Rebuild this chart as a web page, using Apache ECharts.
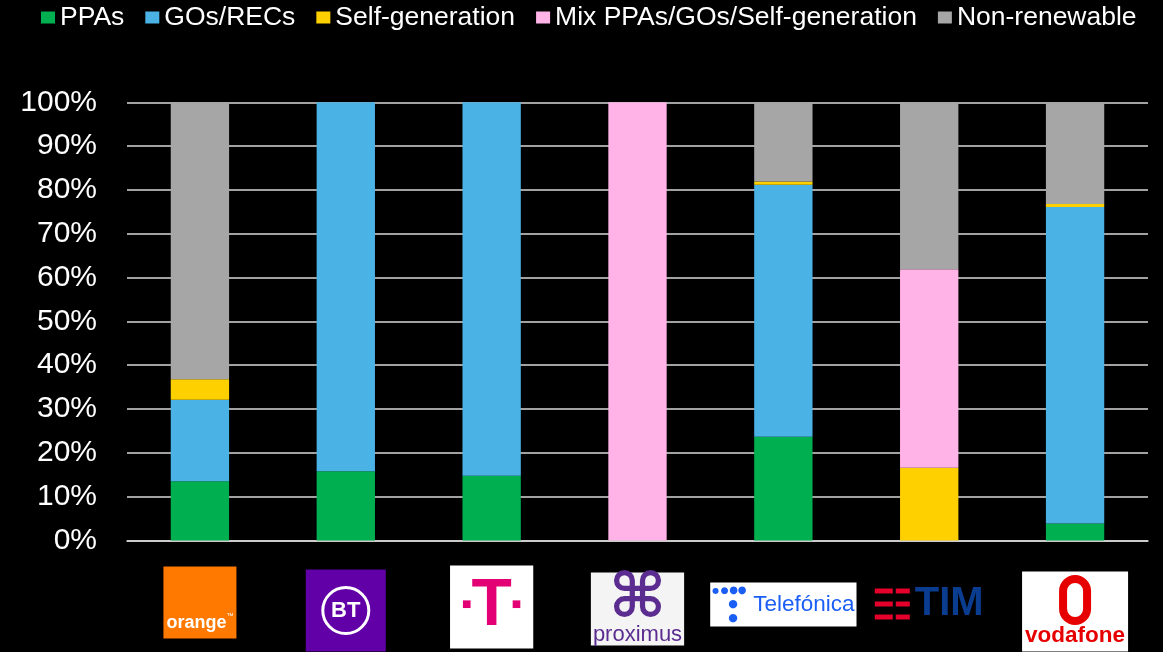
<!DOCTYPE html>
<html><head><meta charset="utf-8">
<script src="https://cdn.jsdelivr.net/npm/echarts@6/dist/echarts.min.js"></script>
<style>html,body{margin:0;padding:0;background:#000;}#c{width:1163px;height:652px;}</style>
</head><body><div id="c"></div>
<script>
// ---- data ----
const categories = ['Orange', 'BT', 'Deutsche Telekom', 'Proximus', 'Telefónica', 'TIM', 'Vodafone'];
const seriesNames = ['PPAs', 'GOs/RECs', 'Self-generation', 'Mix PPAs/GOs/Self-generation', 'Non-renewable'];
const ppas         = [13.5, 15.8, 14.8, 0,   23.7, 0,    3.9];
const gosRecs      = [18.6, 84.2, 85.2, 0,   57.5, 0,    72.2];
const selfGen      = [4.7,  0,    0,    0,   0.7,  16.6, 0.7];
const mixed        = [0,    0,    0,    100, 0,    45.3, 0];
const nonRenewable = [63.2, 0,    0,    0,   18.1, 38.1, 23.2];
const yTickLabels  = ['0%','10%','20%','30%','40%','50%','60%','70%','80%','90%','100%'];
const seriesValues = [ppas, gosRecs, selfGen, mixed, nonRenewable];
const colors = ['#00B050', '#4BB2E5', '#FFD000', '#FFB3E6', '#A6A6A6'];

// ---- logo labels (as rich text) ----
const logoText = {
  'Orange': '{o|orange}{otm|™}',
  'BT': '{bt|BT}',
  'Deutsche Telekom': '{dsq|■}{dt|T}{dsq|■}',
  'Proximus': '{px|⌘}\n{pxt|proximus}',
  'Telefónica': '{tfa|●}{tfb|●}{tfc|●}{tfd|●}\n{tfe|●}{tft|Telefónica}\n{tfe|●}',
  'TIM': '{tr1| }{tg| }{tr2| }\n{tr1| }{tg| }{tr2| }{tim|TIM}\n{tr1| }{tg| }{tr2| }',
  'Vodafone': '{vr| }\n{vt|vodafone}'
};
const logoBox = {
  'Orange': {backgroundColor: '#FF7900', padding: [46, 3, 4, 3]},
  'BT': {backgroundColor: '#6000A6', padding: [18, 17, 18, 17]},
  'Deutsche Telekom': {backgroundColor: '#FFFFFF', padding: [8, 12, 8, 12]},
  'Proximus': {backgroundColor: '#F4F4F4', padding: [3, 2, 2, 2]},
  'Telefónica': {backgroundColor: '#FFFFFF', padding: [1, 2, 1, 2]},
  'TIM': {},
  'Vodafone': {backgroundColor: '#FFFFFF', padding: [3, 3, 6, 3]}
};
const logoMargin = {
  'Orange': 26, 'BT': 29, 'Deutsche Telekom': 25, 'Proximus': 32,
  'Telefónica': 42, 'TIM': 44, 'Vodafone': 31
};
const tfBlue = '#1A5EF5';
const timRed = '#E4002B';
const rich = {
  o: {color: '#fff', fontSize: 18, fontWeight: 'bold', lineHeight: 22, fontFamily: 'Liberation Sans'},
  otm: {color: '#fff', fontSize: 7, lineHeight: 22, verticalAlign: 'top', fontFamily: 'Liberation Sans'},
  bt: {width: 46, height: 46, lineHeight: 46, align: 'center', borderColor: '#fff', borderWidth: 3,
       borderRadius: 24, color: '#fff', fontSize: 22, fontWeight: 'bold', fontFamily: 'Liberation Sans'},
  dt: {color: '#E20074', fontSize: 66, fontWeight: 'bold', lineHeight: 67, fontFamily: 'Liberation Sans'},
  dsq: {color: '#E20074', fontSize: 10, lineHeight: 67, fontFamily: 'DejaVu Sans', padding: [0, 0, 6, 0]},
  px: {color: '#5C2D91', fontSize: 62, fontWeight: 'bold', lineHeight: 50, fontFamily: 'DejaVu Sans'},
  pxt: {color: '#5C2D91', fontSize: 22, lineHeight: 18, fontFamily: 'Liberation Sans'},
  tfa: {color: tfBlue, fontSize: 8, width: 8.5, align: 'left', lineHeight: 14, fontFamily: 'DejaVu Sans'},
  tfb: {color: tfBlue, fontSize: 9, width: 8.5, align: 'left', lineHeight: 14, fontFamily: 'DejaVu Sans'},
  tfc: {color: tfBlue, fontSize: 10, width: 8.5, align: 'left', lineHeight: 14, fontFamily: 'DejaVu Sans'},
  tfd: {color: tfBlue, fontSize: 10, width: 8.5, align: 'left', lineHeight: 14, fontFamily: 'DejaVu Sans'},
  tfe: {color: tfBlue, fontSize: 11, width: 9, align: 'left', lineHeight: 14, padding: [0, 0, 0, 16], fontFamily: 'DejaVu Sans'},
  tft: {color: tfBlue, fontSize: 22.5, lineHeight: 14, align: 'left', padding: [0, 0, 0, 16], fontFamily: 'Liberation Sans'},
  tr1: {width: 18, height: 5, lineHeight: 13, backgroundColor: timRed, align: 'left', fontSize: 4},
  tg: {width: 3, lineHeight: 13, align: 'left', fontSize: 4},
  tr2: {width: 14, height: 5, lineHeight: 13, backgroundColor: timRed, align: 'left', fontSize: 4},
  tim: {color: '#0A3C8F', fontSize: 40, fontWeight: 'bold', lineHeight: 13, align: 'left', padding: [0, 0, 0, 5], fontFamily: 'Liberation Sans'},
  vr: {width: 24, height: 42, lineHeight: 51, borderColor: '#E60000', borderWidth: 8, borderRadius: 16, fontSize: 4},
  vt: {color: '#E60000', fontSize: 22.5, fontWeight: 'bold', lineHeight: 20, fontFamily: 'Liberation Sans'}
};

// one category axis per logo so each logo can sit at its own distance below the plot
const xAxes = categories.map((c, idx) => ({
  type: 'category',
  gridIndex: 0,
  position: 'bottom',
  data: categories.map(x => (x === c ? {value: x, textStyle: logoBox[x]} : x)),
  axisLine: {show: idx === 0, lineStyle: {color: '#D9D9D9', width: 1.5}},
  axisTick: {show: false},
  splitLine: {show: false},
  axisLabel: {
    show: true, interval: 0, margin: logoMargin[c], color: '#fff',
    formatter: v => (v === c ? logoText[v] : ''),
    rich: rich
  }
}));

const chart = echarts.init(document.getElementById('c'), null, {renderer: 'canvas'});
chart.setOption({
  backgroundColor: '#000000',
  animation: false,
  legend: {
    data: seriesNames,
    left: 41, top: 4, padding: 0,
    itemWidth: 14, itemHeight: 12, itemGap: 21, icon: 'rect',
    selectedMode: false,
    textStyle: {color: '#FFFFFF', fontSize: 26.5, fontFamily: 'Liberation Sans'}
  },
  grid: {left: 127, right: 15, top: 102.3, bottom: 111.5, containLabel: false, outerBoundsMode: 'none'},
  xAxis: xAxes,
  yAxis: {
    type: 'value', min: 0, max: 100, interval: 10,
    axisLine: {show: false}, axisTick: {show: false},
    splitLine: {lineStyle: {color: '#D9D9D9', width: 1.5}},
    axisLabel: {
      margin: 30, color: '#FFFFFF', fontSize: 30, fontFamily: 'Liberation Sans',
      formatter: v => yTickLabels[Math.round(v / 10)]
    }
  },
  series: seriesNames.map((name, i) => ({
    name: name,
    type: 'bar',
    stack: 'total',
    xAxisIndex: 0,
    barWidth: '40%',
    data: seriesValues[i],
    itemStyle: {color: colors[i]},
    emphasis: {disabled: true}
  }))
});
</script>
</body></html>
